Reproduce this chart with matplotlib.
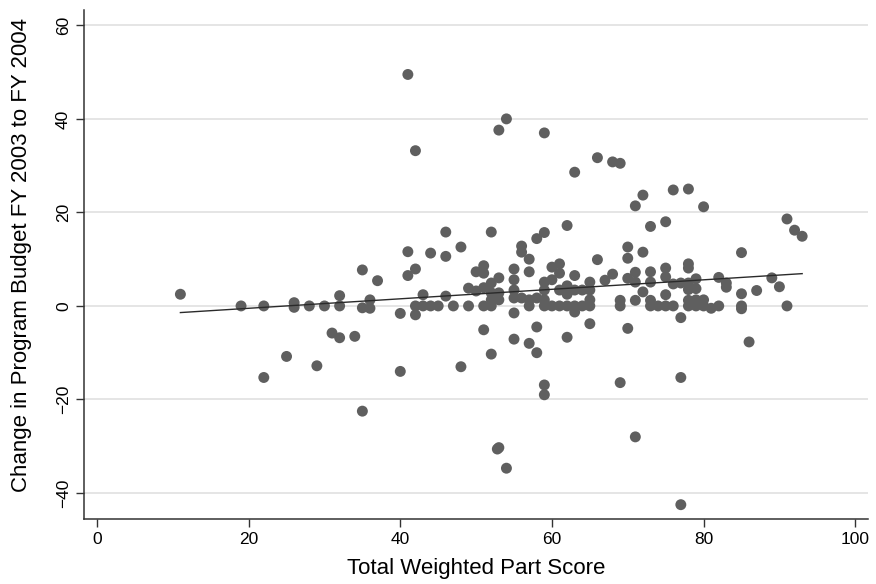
import numpy as np
import matplotlib
matplotlib.use("Agg")
import matplotlib.pyplot as plt

plt.rcParams['font.family'] = ['Liberation Sans', 'DejaVu Sans']

# part score (x) and budget change (y)
score = [11, 19, 22, 22, 25, 26, 26, 28, 29, 30, 31, 32, 32, 32, 34,
         35, 35, 35, 36, 36, 37, 40, 40, 41, 41, 41, 42, 42, 42, 42,
         43, 43, 44, 44, 45, 46, 46, 46, 47, 48, 48, 49, 49, 50, 50,
         51, 51, 51, 51, 51, 52, 52, 52, 52, 52, 52,
         53, 53, 53, 53, 53, 52.8, 54, 54,
         55, 55, 55, 55, 55, 55, 56, 56, 56, 57, 57, 57, 57, 57,
         58, 58, 58, 58, 59, 59, 59, 59, 59, 59, 59, 59,
         60, 60, 60, 61, 61, 61, 61, 62, 62, 62, 62, 62,
         63, 63, 63, 63, 63, 64, 64, 65, 65, 65, 65, 65, 66, 66, 67,
         68, 68, 69, 69, 69, 69, 70, 70, 70, 70,
         71, 71, 71, 71, 71, 72, 72, 72, 73, 73, 73, 73, 73, 74,
         75, 75, 75, 75, 75, 76, 76, 76, 77, 77, 77, 77,
         78, 78, 78, 78, 78, 78, 78, 79, 79, 79, 79, 80, 80, 80, 81,
         82, 82, 83, 83, 85, 85, 85, 85, 86, 87, 89, 90, 91, 91, 92, 93]
change = [2.5, 0, 0, -15.3, -10.8, 0.7, -0.3, 0, -12.8, 0, -5.8, 2.2, 0, -6.8, -6.5,
          7.7, -0.4, -22.5, 1.3, -0.5, 5.4, -1.6, -14, 49.5, 11.6, 6.5, 33.2, 7.9, 0, -1.9,
          2.4, 0, 11.3, 0, 0, 15.8, 10.6, 2.1, 0, 12.6, -13, 3.8, 0, 7.3, 3.2,
          8.6, 7, 3.9, 0, -5.1, 15.8, 4.9, 2.8, 1.3, 0, -10.3,
          37.6, 6, 2.8, 1.3, -30.3, -30.6, 40, -34.7,
          7.9, 5.6, 3.4, 1.7, -1.5, -7.1, 12.8, 11.5, 1.7, 10, 7.3, 1.3, 0, -8,
          14.4, 1.7, -4.5, -10, 37, 15.7, 5.1, 3.4, 1.3, 0, -16.9, -19,
          8.3, 5.6, 0, 9, 7, 3.4, 0, 17.2, 4.3, 2.5, 0, -6.7,
          28.6, 6.5, 3.4, 0, -1.3, 3.4, 0, 5.1, 3.4, 1.3, 0, -3.8, 31.7, 9.9, 5.5,
          30.8, 6.8, 30.5, 1.2, 0, -16.4, 12.6, 10.2, 5.9, -4.8,
          21.4, 7.2, 5.1, 1.2, -28, 23.7, 11.5, 3, 17, 7.3, 5.1, 1.2, 0, 0,
          18, 8.1, 6.2, 2.4, 0, 24.8, 4.7, 0, 4.9, -2.5, -15.3, -42.5,
          25, 9, 8.1, 4.9, 3.5, 1.2, 0, 5.8, 3.7, 1.3, 0, 21.2, 1.3, 0, -0.5,
          6.1, 0, 4.9, 4, 11.4, 2.6, 0, -0.6, -7.7, 3.3, 6, 4.1, 18.6, 0, 16.2, 14.9]

x_ticks = [0, 20, 40, 60, 80, 100]
y_ticks = [-40, -20, 0, 20, 40, 60]

x = np.array(score)
y = np.array(change)

fig = plt.figure(figsize=(8.76, 5.84), dpi=100)
ax = fig.add_axes([0.096, 0.111, 0.895, 0.872])

ax.scatter(x, y, s=62, color='#5f5f5f', edgecolors='none', zorder=3)

# linear fit line
slope, icpt = np.polyfit(x, y, 1)
xs = np.array([x.min(), x.max()])
ax.plot(xs, icpt + slope * xs, color='#2a2a2a', lw=1.0, zorder=4)

ax.set_xlim(-1.7, 101.7)
ax.set_ylim(-45.6, 63.3)
ax.set_xticks(x_ticks)
ax.set_yticks(y_ticks)
ax.grid(axis='y', color='#e3e3e3', lw=1.3)
ax.set_axisbelow(True)

for s in ['top', 'right']:
    ax.spines[s].set_visible(False)
for s in ['left', 'bottom']:
    ax.spines[s].set_color('#333333')
    ax.spines[s].set_linewidth(1.1)

ax.tick_params(direction='out', length=6, width=1, color='#333333', labelsize=12.5)
for lbl in ax.get_yticklabels():
    lbl.set_rotation(90)
    lbl.set_va('center')

ax.set_xlabel("Total Weighted Part Score", fontsize=16, labelpad=8)
ax.set_ylabel("Change in Program Budget FY 2003 to FY 2004", fontsize=16)
ax.yaxis.set_label_coords(-0.066, 0.518)

fig.savefig("out.png", dpi=100)
